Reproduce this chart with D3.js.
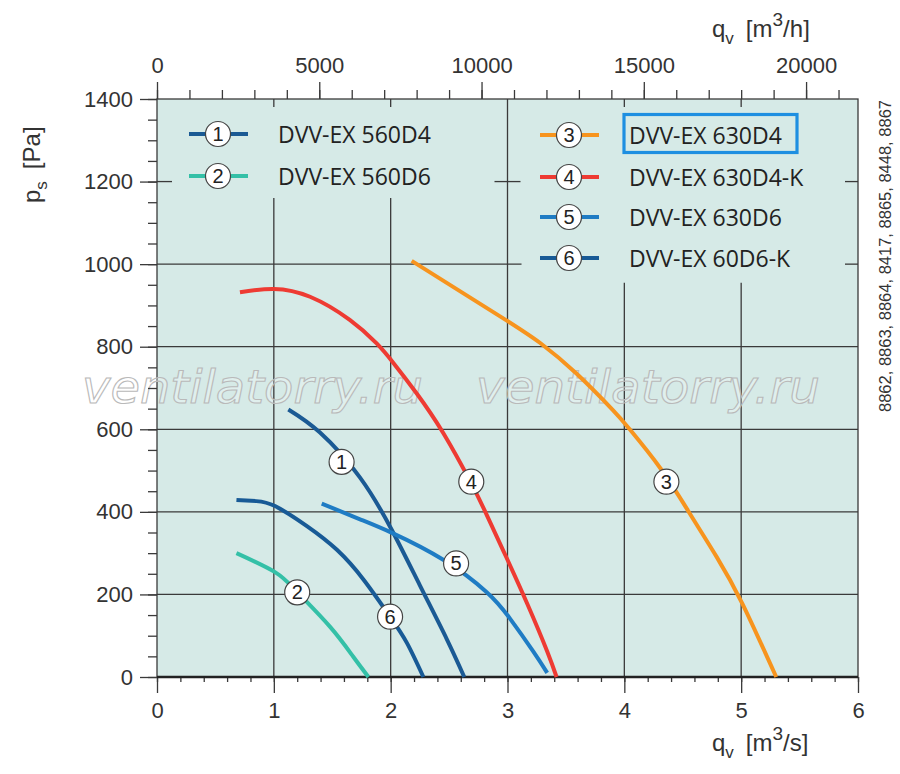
<!DOCTYPE html>
<html><head><meta charset="utf-8">
<script src="https://cdn.jsdelivr.net/npm/d3@7"></script>
<style>
body{margin:0;background:#fff;}
svg{display:block;}
</style></head>
<body><svg id="c" width="900" height="774"></svg>
<script>
// ---- data (q in m3/s, p in Pa) ----
const curve1 = [[1.124,648],[1.395,592],[1.738,483],[2.01,356],[2.25,222],[2.48,92],[2.63,0]];
const curve2 = [[0.68,300],[1.01,254],[1.20,206],[1.48,122],[1.68,49],[1.81,0]];
const curve3 = [[2.18,1008],[2.94,873],[3.28,809],[3.59,735],[3.90,647],[4.04,602],[4.31,505],[4.56,396],[4.79,291],[5.01,178],[5.30,0]];
const curve4 = [[0.71,932],[1.0,940],[1.31,921],[1.65,865],[1.88,808],[2.02,762],[2.22,688],[2.45,591],[2.69,469],[2.82,394],[2.99,290],[3.17,177],[3.34,62],[3.42,0]];
const curve5 = [[1.41,420],[1.738,382],[2.02,348],[2.45,284],[2.82,206],[3.02,142],[3.22,62],[3.34,10]];
const curve6 = [[0.68,429],[0.85,426],[1.01,414],[1.28,366],[1.54,308],[1.77,235],[1.995,146],[2.14,82],[2.28,0]];
const seriesNames = ["DVV-EX 560D4","DVV-EX 560D6","DVV-EX 630D4","DVV-EX 630D4-K","DVV-EX 630D6","DVV-EX 60D6-K"];
const seriesColors = ["#1b5a94","#34c0a7","#f7941e","#ee3b33","#1f7cc4","#185a96"];
const labelPoints = [[1.58,521],[1.20,205],[4.36,473],[2.69,473],[2.56,275],[1.995,146]];
const xTicks = [0,1,2,3,4,5,6];
const yTicks = [0,200,400,600,800,1000,1200,1400];
const topTicks = [0,5000,10000,15000,20000];
const sideNote = "8862, 8863, 8864, 8417, 8865, 8448, 8867";
const watermark = "ventilatorry.ru";

const curves = [curve1,curve2,curve3,curve4,curve5,curve6];

const svg = d3.select("#c");
const L=157,R=858,T=99,B=677;
const x = d3.scaleLinear([0,6],[L,R]);
const y = d3.scaleLinear([0,1400],[B,T]);
const xTop = d3.scaleLinear([0,6*3600],[L,R]);
const gridCol="#3a3a3a";

// background
svg.append("rect").attr("x",L).attr("y",T).attr("width",R-L).attr("height",B-T).attr("fill","#d6eae7");

// grid lines (segments in data units)
const gridV = [[1,0,1160],[2,0,1160],[3,0,1400],[4,0,955],[5,0,955]];
const gridH = [[200,0,6],[400,0,6],[600,0,6],[800,0,6],[1000,0,3.12]];
const g = svg.append("g").attr("stroke",gridCol).attr("stroke-width",1.3);
gridV.forEach(d=>g.append("line").attr("x1",x(d[0])).attr("x2",x(d[0])).attr("y1",y(d[1])).attr("y2",y(d[2])));
gridH.forEach(d=>g.append("line").attr("y1",y(d[0])).attr("y2",y(d[0])).attr("x1",x(d[1])).attr("x2",x(d[2])));
// cross stubs
const stub=13;
[1,2,4,5].forEach(q=>g.append("line").attr("x1",x(q)).attr("x2",x(q)).attr("y1",T).attr("y2",T+8));
[1200].forEach(p=>{
  g.append("line").attr("x1",L).attr("x2",L+stub+2).attr("y1",y(p)).attr("y2",y(p));
  g.append("line").attr("x1",x(3)-stub).attr("x2",x(3)+stub).attr("y1",y(p)).attr("y2",y(p));
  g.append("line").attr("x1",R-stub).attr("x2",R).attr("y1",y(p)).attr("y2",y(p));
});
g.append("line").attr("x1",R-stub).attr("x2",R).attr("y1",y(1000)).attr("y2",y(1000));

// border
svg.append("rect").attr("x",L).attr("y",T).attr("width",R-L).attr("height",B-T).attr("fill","none").attr("stroke",gridCol).attr("stroke-width",1.3);

// watermark
const wm = svg.append("g");
const wmPos=[[82,341],[476,344]];
wmPos.forEach(d=>{
  wm.append("text").attr("x",d[0]).attr("y",403).text(watermark)
    .attr("font-family","DejaVu Sans").attr("font-style","italic").attr("font-weight",200)
    .attr("font-size",46).attr("textLength",d[1]).attr("lengthAdjust","spacingAndGlyphs")
    .attr("fill","rgba(255,255,255,0.25)").attr("stroke","#b9b9b9").attr("stroke-width",1.1);
});

// axes
const font="Liberation Sans, Arial, sans-serif";
function styleAxis(sel){
  sel.selectAll("path").remove();
  sel.selectAll("line").attr("stroke",gridCol).attr("stroke-width",1.3);
  sel.selectAll("text").attr("font-family",font).attr("font-size",22).attr("fill","#333");
}
// bottom
svg.append("g").attr("transform",`translate(0,${B})`)
  .call(d3.axisBottom(x).tickValues(d3.range(0,6.001,0.2)).tickSize(5).tickFormat(""))
  .call(styleAxis);
svg.append("g").attr("transform",`translate(0,${B})`)
  .call(d3.axisBottom(x).tickValues(xTicks).tickSize(16).tickPadding(9).tickFormat(d3.format("d")))
  .call(styleAxis);
svg.append("line").attr("x1",L).attr("x2",R).attr("y1",B).attr("y2",B).attr("stroke","#222").attr("stroke-width",2.4);
// top
svg.append("g").attr("transform",`translate(0,${T})`)
  .call(d3.axisTop(xTop).tickValues(d3.range(0,21001,1000)).tickSize(9).tickFormat(""))
  .call(styleAxis);
svg.append("g").attr("transform",`translate(0,${T})`)
  .call(d3.axisTop(xTop).tickValues(topTicks).tickSize(17).tickPadding(9).tickFormat(d3.format("d")))
  .call(styleAxis);
// left
svg.append("g").attr("transform",`translate(${L},0)`)
  .call(d3.axisLeft(y).tickValues(d3.range(0,1401,50)).tickSize(9).tickFormat(""))
  .call(styleAxis);
svg.append("g").attr("transform",`translate(${L},0)`)
  .call(d3.axisLeft(y).tickValues(yTicks).tickSize(17).tickPadding(7).tickFormat(d3.format("d")))
  .call(styleAxis);

// axis titles
function qTitle(px,py,unit){
  const t=svg.append("text").attr("x",px).attr("y",py).attr("font-family",font).attr("font-size",24).attr("fill","#333");
  t.append("tspan").text("q");
  t.append("tspan").attr("font-size",17).attr("dy",7).text("v");
  t.append("tspan").attr("dy",-7).text("\u2002[m");
  t.append("tspan").attr("font-size",19).attr("dy",-11).text("3");
  t.append("tspan").attr("dy",11).text(unit+"]");
}
qTitle(712,751,"/s");
qTitle(712,37,"/h");
{
  const t=svg.append("text").attr("transform","translate(40,203) rotate(-90)").attr("font-family",font).attr("font-size",24).attr("fill","#333");
  t.append("tspan").text("p");
  t.append("tspan").attr("font-size",17).attr("dy",7).text("s");
  t.append("tspan").attr("dy",-7).text("\u2002[Pa]");
}
// side note
svg.append("text").attr("transform","translate(891,412) rotate(-90)").attr("font-family",font)
  .attr("font-size",16).attr("fill","#333").attr("textLength",312).attr("lengthAdjust","spacingAndGlyphs").text(sideNote);

// curves
const line=d3.line().x(d=>x(d[0])).y(d=>y(d[1])).curve(d3.curveNatural);
curves.forEach((c,i)=>{
  svg.append("path").attr("d",line(c)).attr("fill","none").attr("stroke",seriesColors[i]).attr("stroke-width",4).attr("stroke-linecap","butt");
});
// number badges
function badge(cx,cy,n){
  svg.append("circle").attr("cx",cx).attr("cy",cy).attr("r",12.5).attr("fill","#fff").attr("stroke","#444").attr("stroke-width",1.2);
  svg.append("text").attr("x",cx).attr("y",cy+7).attr("text-anchor","middle").attr("font-family",font).attr("font-size",20).attr("fill","#222").text(n);
}
labelPoints.forEach((d,i)=>badge(x(d[0]),y(d[1]),i+1));

// legend
const legendPos=[[189,134],[189,176],[540,135],[540,177],[540,217],[540,258]];
seriesNames.forEach((name,i)=>{
  const [lx,ly]=legendPos[i];
  svg.append("line").attr("x1",lx).attr("x2",lx+59).attr("y1",ly).attr("y2",ly).attr("stroke",seriesColors[i]).attr("stroke-width",4);
  badge(lx+29,ly,i+1);
  svg.append("text").attr("x",lx+89).attr("y",ly+8.5).attr("font-family","Open Sans, sans-serif").attr("font-size",23).attr("fill","#222").text(name);
});
// highlight box
svg.append("rect").attr("x",624).attr("y",114.5).attr("width",173).attr("height",38).attr("fill","none").attr("stroke","#1e8fe1").attr("stroke-width",3.2);
</script></body></html>
